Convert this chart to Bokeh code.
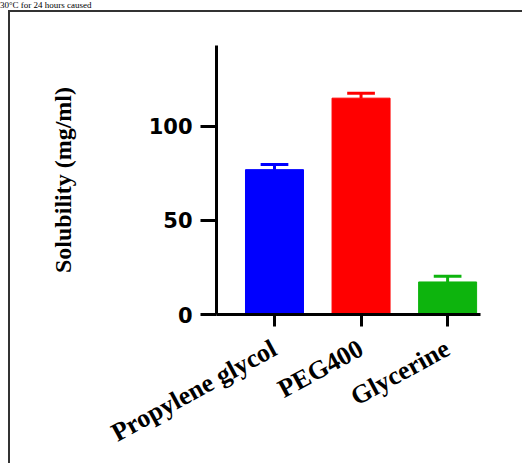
from bokeh.plotting import figure
from bokeh.models import FixedTicker, ColumnDataSource, Range1d, Div, Spacer
from bokeh.layouts import column, row
from bokeh.embed import file_html
from bokeh.resources import INLINE

categories = ["Propylene glycol", "PEG400", "Glycerine"]
solubility = [77.0, 115.0, 17.3]
sd = [2.7, 2.6, 3.0]
bar_colors = ["#0000ff", "#ff0000", "#0db40d"]
y_ticks = [0, 50, 100]
caption = "30°C for 24 hours caused"

xpos = list(range(len(categories)))
upper = [m + s for m, s in zip(solubility, sd)]
cap_half = 0.16
src = ColumnDataSource(dict(
    x=xpos, top=solubility, upper=upper, color=bar_colors,
    cl=[x - cap_half for x in xpos], cr=[x + cap_half for x in xpos]))

p = figure(width=512, height=451, x_range=Range1d(-0.67, 2.38), y_range=Range1d(0, 143),
           output_backend="svg", toolbar_location=None, margin=0,
           min_border_left=206, min_border_right=42, min_border_top=33, min_border_bottom=145)
p.grid.visible = False
p.outline_line_color = None
p.background_fill_color = "white"
p.border_fill_color = "white"

p.vbar(x="x", top="top", bottom=0, width=0.67, fill_color="color", line_color="color", source=src)
p.segment(x0="x", y0="top", x1="x", y1="upper", line_color="color", line_width=3, source=src)
p.segment(x0="cl", y0="upper", x1="cr", y1="upper", line_color="color", line_width=3, source=src)

for ax in (p.xaxis, p.yaxis):
    ax.axis_line_width = 3
    ax.axis_line_color = "black"
    ax.major_tick_line_width = 3
    ax.major_tick_line_color = "black"
    ax.major_tick_in = 0
    ax.minor_tick_line_color = None

p.yaxis.ticker = FixedTicker(ticks=y_ticks)
p.yaxis.major_tick_out = 16
p.yaxis.major_label_standoff = 8
p.yaxis.major_label_text_font = "DejaVu Sans"
p.yaxis.major_label_text_font_style = "bold"
p.yaxis.major_label_text_font_size = "21px"
p.yaxis.major_label_text_color = "black"
p.yaxis.axis_label = "Solubility (mg/ml)"
p.yaxis.axis_label_text_font = "Liberation Serif"
p.yaxis.axis_label_text_font_style = "bold"
p.yaxis.axis_label_text_font_size = "24px"
p.yaxis.axis_label_text_color = "black"
p.yaxis.axis_label_standoff = 70

p.xaxis.ticker = FixedTicker(ticks=xpos)
p.xaxis.major_label_overrides = {i: c for i, c in zip(xpos, categories)}
p.xaxis.major_tick_out = 12
p.xaxis.major_label_standoff = 20
p.xaxis.major_label_orientation = 0.5
p.xaxis.major_label_text_font = "Liberation Serif"
p.xaxis.major_label_text_font_style = "bold"
p.xaxis.major_label_text_font_size = "26px"
p.xaxis.major_label_text_color = "black"

cap_div = Div(text=caption, width=522, height=10, margin=0,
              styles={"font-family": "Liberation Serif", "font-size": "9px",
                      "line-height": "10px", "color": "black", "white-space": "nowrap"})
top_line = Div(text="", width=514, height=2, margin=0, styles={"background-color": "#333333"})
left_line = Div(text="", width=2, height=451, margin=0, styles={"background-color": "#333333"})

layout = column(cap_div,
                row(Spacer(width=8, height=2, margin=0), top_line, spacing=0, margin=0),
                row(Spacer(width=8, height=451, margin=0), left_line, p, spacing=0, margin=0),
                spacing=0, margin=0)

open("out.html", "w").write(file_html(layout, INLINE))
